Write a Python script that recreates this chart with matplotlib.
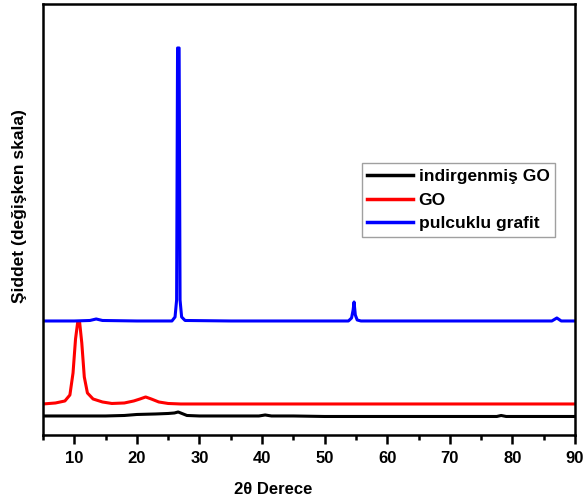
import matplotlib
matplotlib.use("Agg")
import matplotlib.pyplot as plt
from matplotlib.ticker import MultipleLocator

plt.rcParams['font.family'] = ['Liberation Sans', 'DejaVu Sans']

# XRD patterns (2-theta in degrees, stacked intensity in arbitrary units)
two_theta_rgo = [5, 10, 15, 18, 20, 23, 25, 26.0, 26.6, 27.2, 28.0, 30, 35, 39.5, 40.5, 41.5, 45, 50, 60, 70, 77.5, 78.2, 79, 85, 90]
intensity_rgo = [19, 19, 19, 19.5, 20.5, 21, 21.5, 22, 23, 21.5, 19.5, 19, 19, 19, 20, 19, 19, 18.5, 18.5, 18.5, 18.5, 19.5, 18.5, 18.5, 18.5]

two_theta_go = [5, 7, 8.5, 9.3, 9.8, 10.2, 10.55, 10.85, 11.2, 11.6, 12.1, 13.0, 14.5, 16, 18, 19.5, 20.5, 21.4, 22.3, 23.5, 25, 27, 35, 50, 70, 90]
intensity_go = [31, 32, 34, 40, 62, 96, 113, 113, 92, 58, 42, 36, 33, 31.5, 32, 34, 36, 38, 36, 33, 31.5, 31, 31, 31, 31, 31]

two_theta_graphite = [5, 10, 12.5, 13.5, 14.5, 20, 25.6, 26.1, 26.35, 26.5, 26.75, 26.9, 27.15, 27.7, 35, 45, 53.8, 54.3, 54.55, 54.7, 54.9, 55.2, 55.8, 65, 75, 86.3, 87.1, 87.8, 90]
intensity_graphite = [114, 114, 114.5, 116, 114.5, 114, 114, 118, 135, 387, 387, 135, 118, 114.5, 114, 114, 114, 117, 125, 133, 120, 115, 114, 114, 114, 114, 117, 114, 114]

series_labels = ["indirgenmiş GO", "GO", "pulcuklu grafit"]
series_colors = ["black", "#ff0000", "#0000ff"]

fig = plt.figure(figsize=(5.84, 4.99), dpi=100)
ax = fig.add_axes([0.0736, 0.1283, 0.911, 0.8637])

lw = 2.2
ax.plot(two_theta_rgo, intensity_rgo, color=series_colors[0], lw=lw, label=series_labels[0])
ax.plot(two_theta_go, intensity_go, color=series_colors[1], lw=lw, label=series_labels[1])
ax.plot(two_theta_graphite, intensity_graphite, color=series_colors[2], lw=lw, label=series_labels[2])

ax.set_xlim(5, 90)
ax.set_ylim(0, 431)

ax.xaxis.set_major_locator(MultipleLocator(10))
ax.xaxis.set_minor_locator(MultipleLocator(5))
ax.set_yticks([])

for s in ax.spines.values():
    s.set_linewidth(1.8)

ax.tick_params(axis='x', which='major', direction='out', length=6.5, width=1.8, pad=5,
               labelsize=12)
ax.tick_params(axis='x', which='minor', direction='out', length=3.5, width=1.8)
for t in ax.get_xticklabels():
    t.set_fontweight('bold')

ax.set_xlabel("2θ Derece", fontsize=12, fontweight='bold')
ax.xaxis.set_label_coords(0.433, -0.108)
ax.set_ylabel("Şiddet (değişken skala)", fontsize=12.5, fontweight='bold')
ax.yaxis.set_label_coords(-0.03, 0.532)

leg = ax.legend(loc='upper left', bbox_to_anchor=(0.6, 0.63),
                prop={'weight': 'bold', 'size': 12.5}, frameon=True, fancybox=False,
                handlelength=2.6, handletextpad=0.35, borderpad=0.3, labelspacing=0.5,
                borderaxespad=0)
leg.get_frame().set_edgecolor('#888888')
leg.get_frame().set_linewidth(1.0)
for line in leg.get_lines():
    line.set_linewidth(2.5)

fig.savefig("out.png", dpi=100)
